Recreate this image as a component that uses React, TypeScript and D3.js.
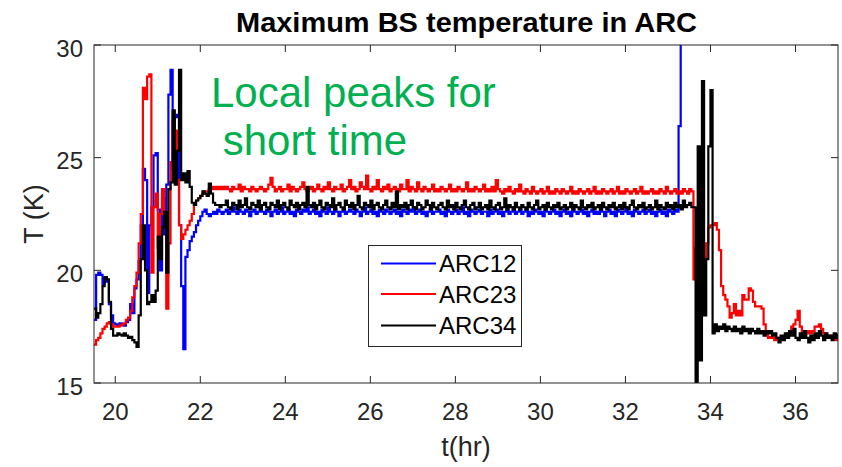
import React from "react";
import * as d3 from "d3";

// Sampling of the logged temperatures: one value every 0.05 h from 19.5 h
const T_START = 19.5;
const T_STEP = 0.05;

const ARC12 = [
  17.8, 19.8, 19.9, 19.8, 19.4, 19.7, 19.5, 18.5, 18.0, 17.65,
  17.6, 17.55, 17.65, 17.6, 17.55, 17.7, 17.8, 18.5, 18.1, 19.2,
  19.6, 20.4, 22.0, 24.5, 24.0, 19.0, 22.0, 22.8, 25.1, 25.2,
  22.7, 20.0, 23.2, 21.6, 23.8, 27.8, 28.9, 24.5, 26.8, 26.9,
  22.0, 19.3, 16.5, 20.6, 20.9, 21.3, 21.5, 21.7, 22.0, 22.2,
  22.4, 22.6, 22.7, 22.5, 22.4, 22.5, 22.6, 22.5, 22.7, 22.6,
  22.5,
  22.6, 22.7, 22.5, 22.6, 22.8, 22.6, 22.5, 22.7, 22.6, 22.5, 22.7, 22.6, 22.4, 22.6, 22.7, 22.5, 22.6, 22.8, 22.6, 22.5,
  22.7, 22.6, 22.4, 22.6, 22.7, 22.5, 22.6, 22.8, 22.5, 22.6, 22.7, 22.5, 22.6, 22.4, 22.7, 22.6, 22.5, 22.7, 22.6, 22.8,
  22.5, 22.6, 22.7, 22.5, 22.6, 22.4, 22.7, 22.6, 22.5, 22.8, 22.6, 22.5, 22.7, 22.6, 22.4, 22.6, 22.7, 22.5, 22.6, 22.7,
  22.6, 22.5, 22.7, 22.6, 22.4, 22.6, 22.8, 22.5, 22.6, 22.7, 22.5, 22.6, 22.4, 22.7, 22.6, 22.5, 22.7, 22.6, 22.5, 22.6,
  22.7, 22.5, 22.6, 22.4, 22.7, 22.6, 22.5, 22.7, 22.6, 22.8, 22.5, 22.6, 22.7, 22.5, 22.6, 22.4, 22.6, 22.7, 22.5, 22.6,
  22.6, 22.7, 22.5, 22.6, 22.4, 22.7, 22.6, 22.5, 22.6, 22.7, 22.5, 22.6, 22.8, 22.5, 22.6, 22.4, 22.7, 22.6, 22.5, 22.6,
  22.7, 22.5, 22.6, 22.6, 22.4, 22.7, 22.5, 22.6, 22.7, 22.5, 22.6, 22.4, 22.6, 22.7, 22.5, 22.6, 22.8, 22.5, 22.6, 22.7,
  22.5, 22.6, 22.7, 22.4, 22.6, 22.5, 22.7, 22.6, 22.5, 22.6, 22.4, 22.7, 22.6, 22.5, 22.6, 22.7, 22.5, 22.6, 22.4, 22.6,
  22.7, 22.5, 22.6, 22.4, 22.7, 22.6, 22.5, 22.6, 22.7, 22.5, 22.6, 22.4, 22.6, 22.7, 22.5, 22.6, 22.5, 22.7, 22.6, 22.4,
  22.6, 22.7, 22.5, 22.6, 22.4, 22.7, 22.6, 22.5, 22.6, 22.8, 22.5, 22.6, 22.4, 22.7, 22.6, 22.5, 22.6, 22.7, 22.5, 22.6,
  22.7, 22.5, 22.6, 22.4, 22.6, 22.7, 22.5, 22.6, 22.4, 22.7, 22.6, 22.5, 22.7, 22.6,
  26.4, 31.0,
];

const ARC23 = [
  16.7, 16.9, 17.0, 17.2, 17.4, 17.5, 17.65, 17.7, 17.6, 17.5,
  17.5, 17.5, 17.55, 17.6, 17.65, 17.8, 17.9, 18.2, 18.8, 19.3,
  19.9, 21.2, 22.5, 28.1, 27.6, 28.6, 28.7, 19.9, 22.8, 23.4,
  21.0, 22.5, 23.6, 22.0, 18.3, 21.2, 24.8, 26.6, 26.2, 24.0,
  22.0, 21.4, 21.6, 21.8, 22.0, 22.2, 22.5, 22.9, 23.1, 23.2,
  23.3, 23.4, 23.5, 23.5, 23.6, 23.6, 23.7, 23.6, 23.7, 23.6,
  23.7,
  23.6, 23.7, 23.6, 23.5, 23.7, 23.6, 23.6, 23.8, 23.5, 23.7, 23.6, 23.6, 23.5, 23.7, 23.6, 23.5, 23.6, 23.7, 23.6, 23.5,
  23.6, 23.8, 24.1, 23.7, 23.5, 23.6, 23.7, 23.5, 23.6, 23.6, 23.8, 23.5, 23.7, 23.6, 23.5, 23.6, 23.7, 23.9, 23.6, 23.5,
  23.6, 23.7, 23.5, 23.6, 23.8, 23.6, 23.5, 23.7, 23.6, 23.9, 23.6, 23.5, 23.7, 23.6, 23.6, 23.8, 23.5, 23.6, 23.7, 24.0,
  23.6, 23.7, 23.5, 23.6, 23.9, 23.7, 23.6, 24.2, 23.6, 23.5, 23.7, 23.6, 24.0, 23.6, 23.5, 23.7, 23.6, 23.8, 23.5, 23.6,
  23.7, 23.6, 23.5, 23.8, 23.6, 23.6, 24.0, 23.5, 23.7, 23.6, 23.5, 23.9, 23.6, 23.5, 23.7, 23.6, 23.5, 23.6, 23.8, 23.5,
  23.6, 23.5, 23.7, 23.6, 23.5, 23.6, 23.8, 23.5, 23.6, 23.5, 23.7, 23.6, 23.5, 23.6, 23.9, 23.5, 23.6, 23.5, 23.7, 23.6,
  23.5, 23.6, 23.8, 23.5, 23.6, 23.5, 23.7, 23.5, 24.0, 23.6, 23.5, 23.4, 23.6, 23.5, 23.7, 23.5, 23.4, 23.6, 23.5, 23.8,
  23.5, 23.4, 23.6, 23.5, 23.4, 23.7, 23.5, 23.4, 23.5, 23.6, 23.4, 23.5, 23.7, 23.4, 23.5, 23.4, 23.6, 23.5, 23.4, 23.6,
  23.5, 23.4, 23.5, 23.7, 23.4, 23.5, 23.4, 23.6, 23.5, 23.4, 23.5, 23.6, 23.4, 23.5, 23.7, 23.4, 23.5, 23.4, 23.6, 23.5,
  23.4, 23.5, 23.6, 23.4, 23.5, 23.7, 23.4, 23.5, 23.4, 23.6, 23.5, 23.4, 23.5, 23.6, 23.4, 23.5, 23.7, 23.4, 23.5, 23.4,
  23.5, 23.6, 23.4, 23.5, 23.4, 23.6, 23.5, 23.4, 23.7, 23.5, 23.4, 23.5, 23.6, 23.4, 23.5, 23.4, 23.6, 23.5, 23.4, 23.6,
  23.5,
  19.6, 21.0, 21.6, 18.3, 19.8, 20.6, 21.2, 21.9, 22.0, 22.0,
  22.1, 21.8, 20.9, 19.3, 18.9, 18.7, 18.4, 17.9, 18.1, 18.5,
  18.0, 18.2, 18.0, 18.9, 18.7, 18.7, 19.2, 19.1, 18.6, 18.4,
  18.4, 18.4, 18.3, 17.6, 17.2, 17.0, 17.05, 17.0, 16.9, 17.0,
  16.95, 17.0, 17.05, 17.1, 17.2, 17.3, 17.5, 17.6, 17.8, 18.2,
  17.5, 17.2, 17.0, 17.2, 17.3, 17.2, 17.3, 17.5, 17.5, 17.6,
  17.4, 17.2, 17.1, 17.0, 17.1, 17.0, 17.0, 16.9, 16.9,
];

const ARC34 = [
  18.3, 17.9, 18.1, 18.5, 19.3, 19.7, 19.6, 18.6, 17.4, 17.1,
  17.1, 17.2, 17.15, 17.1, 17.2, 17.1, 17.0, 17.05, 16.9, 16.8,
  16.6, 18.0, 20.5, 22.0, 20.0, 18.5, 18.6, 18.9, 18.6, 19.1,
  21.5, 20.5, 21.9, 22.6, 19.9, 23.6, 23.9, 27.1, 23.8, 25.3,
  28.9, 24.0, 24.3, 23.9, 24.4, 23.7, 23.0, 22.9, 23.1, 23.2,
  23.3, 23.5, 23.4, 23.3, 23.85, 23.4, 23.0, 22.9, 22.9, 22.8,
  22.9,
  22.9, 23.1, 22.8, 22.7, 23.0, 22.9, 22.7, 23.1, 22.8, 22.9, 23.2, 22.8, 22.7, 23.0, 22.9, 22.8, 23.1, 22.7, 22.9, 23.0,
  22.8, 22.7, 23.0, 22.9, 22.8, 23.1, 22.7, 22.9, 23.0, 22.8, 22.7, 23.1, 22.9, 22.8, 23.0, 22.7, 22.9, 23.0, 22.8, 23.7,
  22.9, 22.8, 23.0, 22.7, 22.9, 23.1, 22.8, 22.7, 23.0, 22.9, 22.8, 23.2, 22.7, 22.9, 23.0, 22.8, 22.7, 23.1, 22.9, 22.8,
  23.0, 22.7, 22.9, 23.3, 22.8, 22.7, 23.0, 22.9, 22.8, 23.1, 22.7, 22.9, 23.0, 22.8, 22.7, 22.9, 23.1, 22.8, 22.7, 23.0,
  22.8, 23.5, 22.7, 22.9, 22.8, 23.0, 22.7, 22.9, 23.1, 22.8, 22.7, 23.0, 22.9, 22.7, 22.8, 23.1, 22.9, 22.7, 23.0, 22.8,
  22.7, 22.9, 23.0, 22.8, 22.7, 23.1, 22.8, 22.9, 22.7, 23.0, 22.8, 22.7, 22.9, 23.1, 22.8, 22.7, 22.9, 23.0, 22.7, 22.8,
  23.0, 22.7, 22.8, 22.9, 22.7, 23.1, 22.8, 22.7, 22.9, 23.0, 22.7, 22.8, 23.2, 22.7, 22.9, 22.8, 22.7, 23.0, 22.8, 22.7,
  22.9, 22.8, 22.7, 23.0, 22.8, 22.7, 22.9, 23.1, 22.7, 22.8, 22.9, 22.7, 23.0, 22.8, 22.7, 22.9, 22.8, 23.0, 22.7, 22.8,
  22.9, 22.7, 22.8, 23.0, 22.7, 22.9, 22.8, 22.7, 23.1, 22.8, 22.7, 22.9, 22.8, 23.0, 22.7, 22.8, 22.9, 22.7, 23.0, 22.8,
  22.7, 22.9, 22.8, 23.0, 22.7, 22.8, 22.9, 22.7, 23.0, 22.8, 22.7, 22.9, 23.1, 22.8, 22.7, 22.9, 22.8, 23.0, 22.7, 22.8,
  22.9, 22.7, 22.8, 23.1, 22.7, 22.9, 22.8, 22.7, 23.0, 22.8, 22.9, 22.7, 23.0, 22.8, 22.9, 22.7, 23.1, 22.8, 22.9, 23.0,
  22.8,
  22.8, 14.0, 25.5, 16.0, 28.4, 18.0, 20.5, 25.5, 28.0, 17.2,
  17.6, 17.3, 17.5, 17.4, 17.6, 17.3, 17.5, 17.4, 17.3, 17.5,
  17.3, 17.4, 17.2, 17.5, 17.3, 17.4, 17.2, 17.4, 17.3, 17.2,
  17.4, 17.2, 17.3, 17.1, 17.3, 17.2, 17.3, 17.1, 17.2, 17.0,
  16.8, 17.1, 16.9, 17.2, 17.0, 17.3, 17.1, 17.4, 17.0, 16.9,
  17.2, 17.0, 17.3, 17.0, 16.8, 17.1, 16.9, 17.2, 17.0, 17.3,
  17.1, 16.9, 17.2, 17.0, 17.1, 16.9, 17.2, 17.0, 17.2,
];

const SERIES_NAMES = ["ARC12", "ARC23", "ARC34"];
const SERIES_VALUES = [ARC12, ARC23, ARC34];
const SERIES_COLORS = ["#0000ff", "#ff0000", "#000000"];

const X_TICKS = [20, 22, 24, 26, 28, 30, 32, 34, 36];
const Y_TICKS = [15, 20, 25, 30];
const X_DOMAIN: [number, number] = [19.5, 37];
const Y_DOMAIN: [number, number] = [15, 30];

const TITLE = "Maximum BS temperature in ARC";
const X_LABEL = "t(hr)";
const Y_LABEL = "T (K)";
const NOTE_LINES = ["Local peaks for", " short time"];

const W = 842;
const H = 467;
const plot = { left: 94, right: 838, top: 45, bottom: 383 };
const AXIS_COLOR = "#262626";
const FONT = "'Liberation Sans', Arial, Helvetica, sans-serif";

export default function App() {
  const x = d3.scaleLinear().domain(X_DOMAIN).range([plot.left, plot.right]);
  const y = d3.scaleLinear().domain(Y_DOMAIN).range([plot.bottom, plot.top]);

  // sample-and-hold trace of each logged channel
  const line = d3
    .line<number>()
    .defined((v) => v != null && !Number.isNaN(v))
    .x((_, i) => x(T_START + i * T_STEP))
    .y((v) => y(v))
    .curve(d3.curveStepAfter);

  const tickLen = 7;
  const legend = { x: 368.5, y: 245.5, w: 153, h: 101 };
  const legendRows = [263.5, 294, 325.5];

  return (
    <svg
      width={W}
      height={H}
      viewBox={`0 0 ${W} ${H}`}
      style={{ position: "absolute", left: 0, top: 0, background: "#fff" }}
      fontFamily={FONT}
    >
      <defs>
        <clipPath id="plot-clip">
          <rect
            x={plot.left}
            y={plot.top}
            width={plot.right - plot.left}
            height={plot.bottom - plot.top}
          />
        </clipPath>
      </defs>
      <rect x={0} y={0} width={W} height={H} fill="#fff" />

      {/* data lines */}
      <g clipPath="url(#plot-clip)" fill="none" strokeWidth={2.2} strokeLinejoin="miter">
        {SERIES_VALUES.map((vals, k) => (
          <path key={SERIES_NAMES[k]} d={line(vals) || ""} stroke={SERIES_COLORS[k]} />
        ))}
      </g>

      {/* axes box */}
      <rect
        x={plot.left}
        y={plot.top}
        width={plot.right - plot.left}
        height={plot.bottom - plot.top}
        fill="none"
        stroke={AXIS_COLOR}
        strokeWidth={1}
      />
      <g stroke={AXIS_COLOR} strokeWidth={1}>
        {X_TICKS.map((t) => (
          <g key={"xt" + t}>
            <line x1={x(t)} x2={x(t)} y1={plot.bottom} y2={plot.bottom - tickLen} />
            <line x1={x(t)} x2={x(t)} y1={plot.top} y2={plot.top + tickLen} />
          </g>
        ))}
        {Y_TICKS.map((v) => (
          <g key={"yt" + v}>
            <line x1={plot.left} x2={plot.left + tickLen} y1={y(v)} y2={y(v)} />
            <line x1={plot.right} x2={plot.right - tickLen} y1={y(v)} y2={y(v)} />
          </g>
        ))}
      </g>
      <g fill={AXIS_COLOR} fontSize={24}>
        {X_TICKS.map((t) => (
          <text key={"xl" + t} x={x(t)} y={420} textAnchor="middle">
            {t}
          </text>
        ))}
        {Y_TICKS.map((v) => (
          <text key={"yl" + v} x={83} y={y(v) + 11.5} textAnchor="end">
            {v}
          </text>
        ))}
      </g>

      {/* labels */}
      <text x={(plot.left + plot.right) / 2} y={456} textAnchor="middle" fontSize={27} fill={AXIS_COLOR}>
        {X_LABEL}
      </text>
      <text
        transform={`translate(43, ${(plot.top + plot.bottom) / 2}) rotate(-90)`}
        textAnchor="middle"
        fontSize={27}
        fill={AXIS_COLOR}
      >
        {Y_LABEL}
      </text>
      <text
        x={466.5}
        y={32}
        textAnchor="middle"
        fontSize={27}
        fontWeight="bold"
        fill="#000"
        textLength={461}
        lengthAdjust="spacingAndGlyphs"
      >
        {TITLE}
      </text>

      {/* annotation */}
      <g fill="#00b050" fontSize={42}>
        <text x={211} y={107} style={{ whiteSpace: "pre" }}>
          {NOTE_LINES[0]}
        </text>
        <text x={211} y={155} style={{ whiteSpace: "pre" }}>
          {NOTE_LINES[1]}
        </text>
      </g>

      {/* legend */}
      <rect
        x={legend.x}
        y={legend.y}
        width={legend.w}
        height={legend.h}
        fill="#fff"
        stroke={AXIS_COLOR}
        strokeWidth={1}
      />
      {SERIES_NAMES.map((name, k) => (
        <g key={"lg" + name}>
          <line
            x1={381}
            x2={436}
            y1={legendRows[k]}
            y2={legendRows[k]}
            stroke={SERIES_COLORS[k]}
            strokeWidth={2}
          />
          <text x={439} y={legendRows[k] + 8.5} fontSize={24} fill="#000">
            {name}
          </text>
        </g>
      ))}
    </svg>
  );
}
